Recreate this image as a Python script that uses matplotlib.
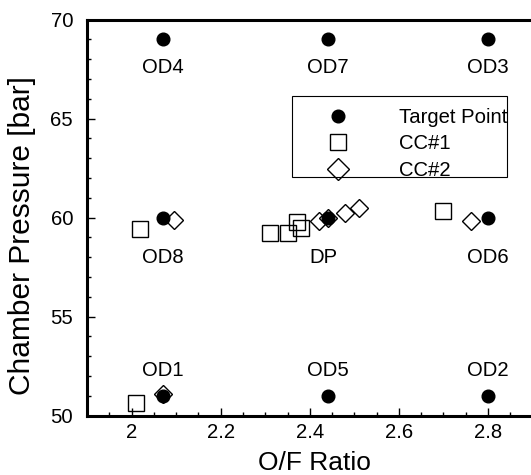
import matplotlib
matplotlib.use("Agg")
import matplotlib.pyplot as plt
from matplotlib.patches import Rectangle
from matplotlib.ticker import MultipleLocator

plt.rcParams['font.family'] = ['Liberation Sans', 'DejaVu Sans']

# Data
target_x = [2.07, 2.44, 2.80, 2.07, 2.44, 2.80, 2.07, 2.44, 2.80]
target_y = [69, 69, 69, 60, 60, 60, 51, 51, 51]
point_labels = ["OD4", "OD7", "OD3", "OD8", "DP", "OD6", "OD1", "OD5", "OD2"]
label_x = [2.07, 2.44, 2.80, 2.07, 2.43, 2.80, 2.07, 2.44, 2.80]
label_y = [67.6, 67.6, 67.6, 57.97, 57.97, 57.97, 52.26, 52.26, 52.26]

cc1_x = [2.010, 2.020, 2.311, 2.351, 2.371, 2.380, 2.700]
cc1_y = [50.65, 59.43, 59.21, 59.21, 59.78, 59.46, 60.35]
cc2_x = [2.071, 2.095, 2.420, 2.440, 2.480, 2.510, 2.761]
cc2_y = [51.10, 59.88, 59.83, 59.97, 60.22, 60.47, 59.85]

series_names = ["Target Point", "CC#1", "CC#2"]

fig = plt.figure(figsize=(5.31, 4.75), dpi=100)
ax = fig.add_axes([87/531, 1-415.7/475, (532.6-87)/531, (415.7-19.5)/475])

fs = 14.6
ax.plot(target_x, target_y, 'o', color='black', markersize=9.1, linestyle='none',
        label=series_names[0], zorder=3)
ax.plot(cc1_x, cc1_y, 's', markerfacecolor='none', markeredgecolor='black',
        markersize=11.5, markeredgewidth=1.0, linestyle='none', label=series_names[1], zorder=4)
ax.plot(cc2_x, cc2_y, 'D', markerfacecolor='none', markeredgecolor='black',
        markersize=9.0, markeredgewidth=1.0, linestyle='none', label=series_names[2], zorder=4)

for lx, ly, t in zip(label_x, label_y, point_labels):
    ax.text(lx, ly, t, ha='center', va='center', fontsize=fs)

ax.set_xlim(1.9, 2.9)
ax.set_ylim(50, 70)
ax.xaxis.set_major_locator(MultipleLocator(0.2))
ax.xaxis.set_minor_locator(MultipleLocator(0.05))
ax.yaxis.set_major_locator(MultipleLocator(5))
ax.yaxis.set_minor_locator(MultipleLocator(1))
ax.set_xticks([2.0, 2.2, 2.4, 2.6, 2.8])
ax.set_xticklabels(["2", "2.2", "2.4", "2.6", "2.8"])

ax.tick_params(which='both', direction='in', top=False, right=False, labelsize=fs)
ax.tick_params(which='major', length=5.8, width=1.0)
ax.tick_params(which='minor', length=3.2, width=1.0)
ax.tick_params(axis='x', which='major', pad=5.5)
ax.tick_params(axis='y', which='major', pad=10)

for s in ax.spines.values():
    s.set_linewidth(2.2)

ax.set_xlabel("O/F Ratio", fontsize=19, va='center')
ax.set_ylabel("Chamber Pressure [bar]", fontsize=21.5, va='center')
ax.xaxis.set_label_coords(0.5106, -0.119)
ax.yaxis.set_label_coords(-0.145, 0.455)

leg = ax.legend(loc='upper left', bbox_to_anchor=(0.518, 0.777), borderaxespad=0,
                borderpad=0, frameon=False, fontsize=fs, handlelength=2.0,
                handletextpad=2.0, labelspacing=0.37)
leg.legend_handles[2].set_markersize(11.5)
ax.add_patch(Rectangle((0.459, 0.603), 0.483, 0.204, transform=ax.transAxes,
                       fill=False, edgecolor='black', linewidth=0.8, zorder=5))

fig.savefig("out.png", dpi=100)
